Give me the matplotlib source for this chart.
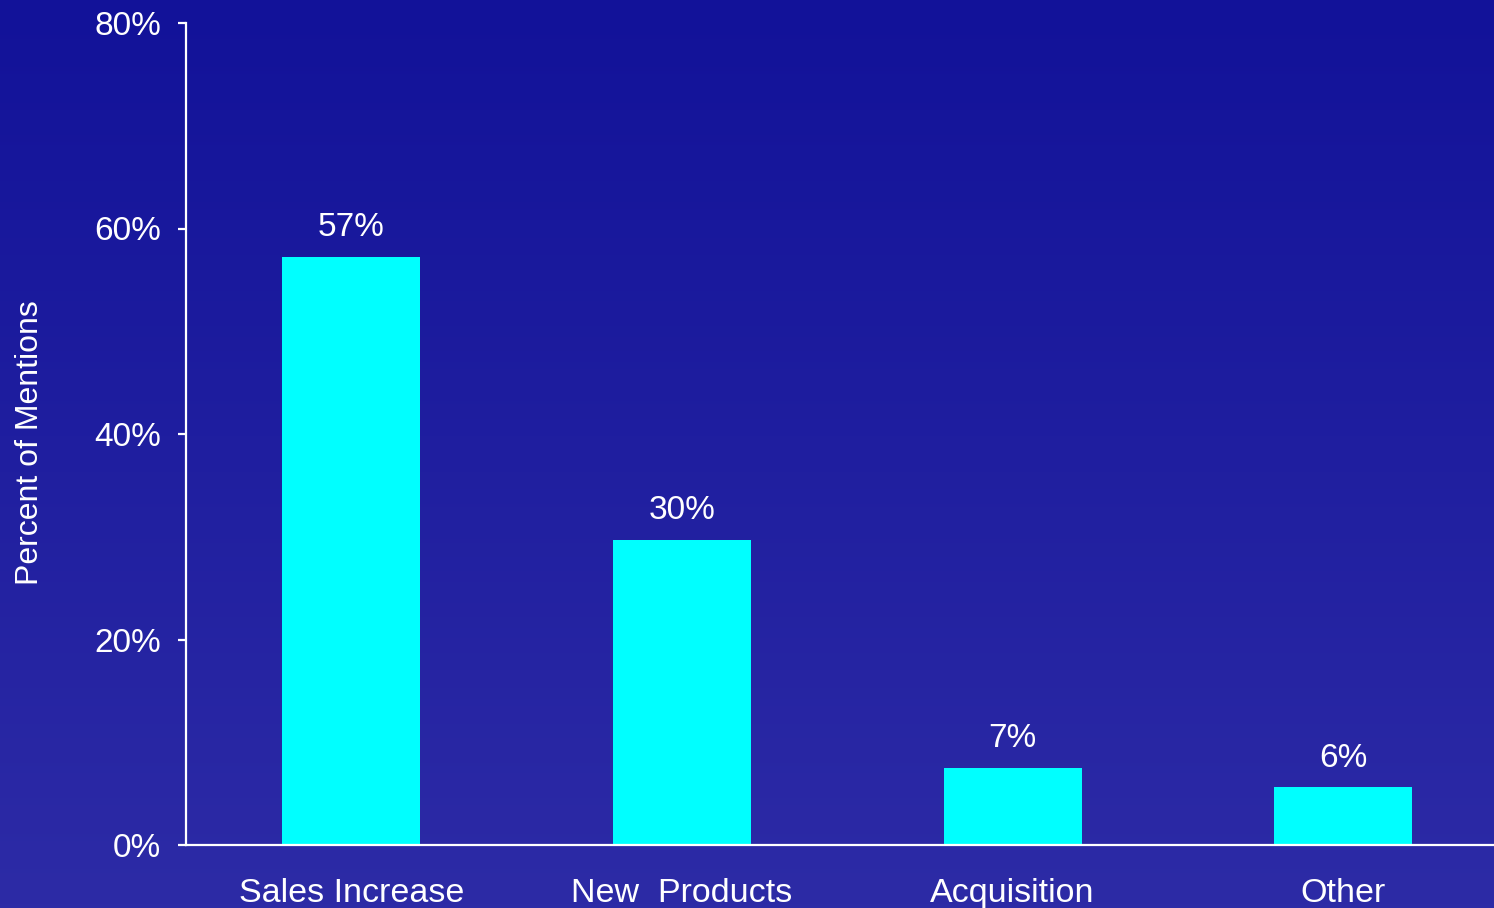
import numpy as np
import matplotlib
matplotlib.use("Agg")
import matplotlib.pyplot as plt
from matplotlib.colors import LinearSegmentedColormap

categories = ["Sales Increase", "New  Products", "Acquisition", "Other"]
values = [57.2, 29.7, 7.5, 5.6]
value_labels = ["57%", "30%", "7%", "6%"]
yticks = [0, 20, 40, 60, 80]
ytick_labels = ["0%", "20%", "40%", "60%", "80%"]

plt.rcParams['font.family'] = ['Liberation Sans', 'DejaVu Sans']

W, H = 1494, 908
fig = plt.figure(figsize=(W / 100, H / 100), dpi=100)

# gradient background
bg = fig.add_axes([0, 0, 1, 1], zorder=-10)
cmap = LinearSegmentedColormap.from_list("bg", ["#121299", "#2D2BA6"])
grad = np.linspace(0, 1, 256).reshape(-1, 1)
bg.imshow(grad, aspect='auto', cmap=cmap, extent=[0, 1, 0, 1], origin='upper')
bg.set_axis_off()

left = 186 / W
bottom = (H - 845) / H
top = (H - 23) / H
ax = fig.add_axes([left, bottom, 1 - left, top - bottom])
ax.set_facecolor('none')

x = np.arange(len(categories))
ax.bar(x, values, width=0.417, color='#00FFFF', zorder=2)
for xi, v, lab in zip(x, values, value_labels):
    ax.annotate(lab, (xi, v), xytext=(0, 15), textcoords='offset points',
                ha='center', va='baseline', color='white', fontsize=24)

ax.set_xlim(-0.5, 3.456)
ax.set_ylim(0, 80)
ax.set_yticks(yticks)
ax.set_yticklabels(ytick_labels)
ax.set_xticks(x)
ax.set_xticklabels(categories)

for s in ['top', 'right']:
    ax.spines[s].set_visible(False)
for s in ['left', 'bottom']:
    ax.spines[s].set_color('white')
    ax.spines[s].set_linewidth(1.6)

ax.tick_params(axis='y', colors='white', labelsize=24, length=6, width=1.6, pad=12)
ax.tick_params(axis='x', colors='white', labelsize=24.5, length=0, pad=23.5)

fig.text(30 / W, 1 - 443 / H, "Percent of Mentions", rotation=90, ha='center',
         va='center', color='white', fontsize=23)

fig.savefig("out.png", dpi=100)
